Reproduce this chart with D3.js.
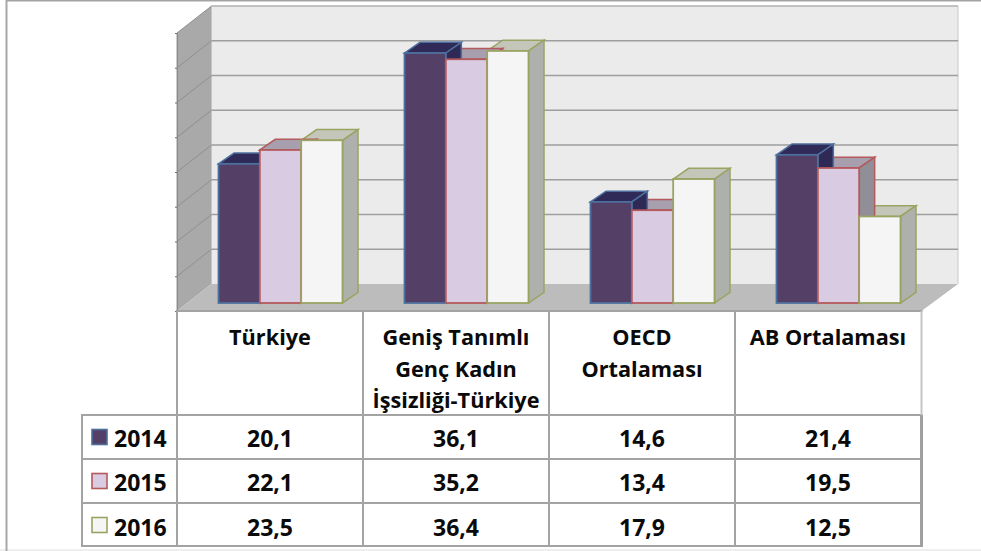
<!DOCTYPE html>
<html><head><meta charset="utf-8">
<script src="https://cdn.jsdelivr.net/npm/d3@7"></script>
<style>html,body{margin:0;padding:0;background:#fff}svg{display:block}text{font-family:"Open Sans",Lato,sans-serif;font-weight:700;fill:#0a0a0a}</style>
</head><body><svg id="c" width="981" height="551"></svg>
<script>
const categories = ["Türkiye","Geniş Tanımlı Genç Kadın İşsizliği-Türkiye","OECD Ortalaması","AB Ortalaması"];
const categoryLines = [["Türkiye"],["Geniş Tanımlı","Genç Kadın","İşsizliği-Türkiye"],["OECD","Ortalaması"],["AB Ortalaması"]];
const seriesNames = ["2014","2015","2016"];
const values2014 = [20.1,36.1,14.6,21.4];
const values2015 = [22.1,35.2,13.4,19.5];
const values2016 = [23.5,36.4,17.9,12.5];
const seriesValues = [values2014,values2015,values2016];
const seriesFront = ["#544066","#d8cbe2","#f5f5f5"];
const seriesStroke = ["#4d6f9e","#b4595c","#9aa462"];
const seriesTop = ["#2f2a57","#a79eae","#c4c6ba"];
const seriesSide = ["#2e2a55","#928e98","#aeb0ab"];
const yTicks = [0,5,10,15,20,25,30,35,40];

const svg = d3.select("#c");
const fmt = v => String(v.toFixed(1)).replace(".",",");
const line = "#a3a3a3";
const path = pts => d3.line()(pts)+"Z";

// page frame
svg.append("rect").attr("x",0).attr("y",549).attr("width",981).attr("height",2).attr("fill","#eeeeee");
svg.append("line").attr("x1",6).attr("x2",981).attr("y1",0.5).attr("y2",0.5).attr("stroke","#a3a3a3").attr("stroke-width",2);
svg.append("line").attr("x1",6.5).attr("x2",6.5).attr("y1",0).attr("y2",551).attr("stroke","#a8a8a8").attr("stroke-width",2);

// scales
const xCol = d3.scaleBand().domain(categories).range([177,921]);
const xBar = d3.scaleBand().domain(seriesNames).range([41.5,41.5+124]);
const yFront = d3.scaleLinear().domain([0,40]).range([303,26]);
const yBack = d3.scaleLinear().domain([0,40]).range([284,6]);
const yEdge = d3.scaleLinear().domain([0,40]).range([311,33]);
const wallL=211.5, wallR=958, frontL=177, frontR=921.5;
const dx=15.5, dy=10.7;

// walls and floor
svg.append("rect").attr("x",wallL).attr("y",6).attr("width",wallR-wallL).attr("height",278).attr("fill","#ebebeb");
svg.append("path").attr("d",path([[frontL,33],[wallL,6],[wallL,284],[frontL,311]])).attr("fill","#a9a9a9");
svg.append("path").attr("d",path([[frontL,311],[wallL,284],[wallR,284],[frontR,311]])).attr("fill","#bcbcbc");
svg.append("line").attr("x1",wallL).attr("x2",wallL).attr("y1",6).attr("y2",284).attr("stroke","#c4c4c4");
svg.append("line").attr("x1",wallR).attr("x2",wallR).attr("y1",6).attr("y2",284).attr("stroke","#c8c8c8");

// gridlines
svg.append("g").selectAll("line").data(yTicks.slice(1)).join("line")
  .attr("x1",wallL).attr("x2",wallR).attr("y1",d=>yBack(d)).attr("y2",d=>yBack(d))
  .attr("stroke",d=>d===40?"#b0b0b0":"#9e9e9e").attr("stroke-width",1.6);
svg.append("g").selectAll("line").data(yTicks.slice(1)).join("line")
  .attr("x1",frontL).attr("x2",wallL).attr("y1",d=>yEdge(d)).attr("y2",d=>yBack(d))
  .attr("stroke","#8f8f8f").attr("stroke-width",1);
svg.append("line").attr("x1",frontL).attr("x2",frontL).attr("y1",33).attr("y2",311).attr("stroke","#9a9a9a").attr("stroke-width",1);

// axis ticks on the front edge of the side wall
const axis = d3.axisLeft(yEdge).tickValues(yTicks).tickFormat("").tickSize(2).tickSizeOuter(0);
svg.append("g").attr("transform",`translate(${frontL},0)`).call(axis)
  .call(g=>g.select(".domain").attr("stroke","#8a8a8a"))
  .call(g=>g.selectAll("line").attr("stroke","#6f6f6f"));

// bars
const barW = xBar.bandwidth();
categories.forEach((c,ci)=>{
  const g = svg.append("g");
  [2,1,0].forEach(si=>{
    const x0 = xCol(c)+xBar(seriesNames[si]), x1 = x0+barW, v = seriesValues[si][ci];
    const t = yFront(v), b = yFront(0);
    g.append("path").attr("d",path([[x0,t],[x0+dx,t-dy],[x1+dx,t-dy],[x1,t]]))
      .attr("fill",seriesTop[si]).attr("stroke",seriesStroke[si]).attr("stroke-width",1.5);
    g.append("path").attr("d",path([[x1,t],[x1+dx,t-dy],[x1+dx,b-dy],[x1,b]]))
      .attr("fill",seriesSide[si]).attr("stroke",seriesStroke[si]).attr("stroke-width",1.5);
  });
  [0,1,2].forEach(si=>{
    const x0 = xCol(c)+xBar(seriesNames[si]), v = seriesValues[si][ci];
    g.append("rect").attr("x",x0).attr("y",yFront(v)).attr("width",barW).attr("height",yFront(0)-yFront(v))
      .attr("fill",seriesFront[si]).attr("stroke",seriesStroke[si]).attr("stroke-width",1.8);
  });
});

// data table
const rowTop = [415,459,503,546];
const tableLeft = 82, headTop = 311;
const T = svg.append("g").attr("stroke",line).attr("stroke-width",2);
T.append("line").attr("x1",frontL-1).attr("x2",frontR+1).attr("y1",headTop).attr("y2",headTop);
rowTop.forEach(y=>T.append("line").attr("x1",tableLeft-1).attr("x2",frontR+1).attr("y1",y).attr("y2",y));
T.append("line").attr("x1",tableLeft).attr("x2",tableLeft).attr("y1",415).attr("y2",547);
categories.forEach(c=>T.append("line").attr("x1",xCol(c)).attr("x2",xCol(c)).attr("y1",headTop).attr("y2",547));
T.append("line").attr("x1",frontR).attr("x2",frontR).attr("y1",headTop).attr("y2",415).attr("stroke","#c4c4c4");
T.append("line").attr("x1",frontR).attr("x2",frontR).attr("y1",415).attr("y2",547).attr("stroke-width",3).attr("stroke","#a0a0a0");

const fs = 21.7;
const lineY = [345,377,408];
categories.forEach((c,ci)=>{
  categoryLines[ci].forEach((l,li)=>{
    svg.append("text").attr("x",xCol(c)+xCol.bandwidth()/2).attr("y",lineY[li]).attr("text-anchor","middle").attr("font-size",fs).text(l);
  });
});
const rowBase = [447,491,536];
seriesNames.forEach((s,si)=>{
  svg.append("rect").attr("x",92).attr("y",rowTop[si]+14.5).attr("width",15).attr("height",15)
    .attr("fill",seriesFront[si]).attr("stroke",seriesStroke[si]).attr("stroke-width",1.6);
  svg.append("text").attr("x",114).attr("y",rowBase[si]).attr("font-size",23).text(s);
  categories.forEach((c,ci)=>{
    svg.append("text").attr("x",xCol(c)+xCol.bandwidth()/2).attr("y",rowBase[si]).attr("text-anchor","middle").attr("font-size",23).text(fmt(seriesValues[si][ci]));
  });
});
</script></body></html>
